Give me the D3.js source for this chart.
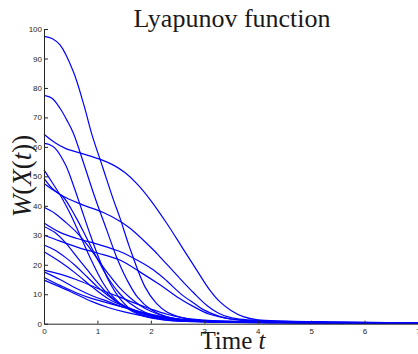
<!DOCTYPE html>
<html>
<head>
<meta charset="utf-8">
<script src="https://cdn.jsdelivr.net/npm/d3@7"></script>
<style>
  html, body { margin: 0; padding: 0; background: #fff; }
  svg { display: block; }
</style>
</head>
<body>
<svg id="chart" width="418" height="354"></svg>
<script>
// tick labels
const xTicks = [0, 1, 2, 3, 4, 5, 6, 7];
const yTicks = [0, 10, 20, 30, 40, 50, 60, 70, 80, 90, 100];

// trajectories W(X(t)) as [t, W] pairs
const run01 = [[0,97.5],[0.15,96.8],[0.3,94.6],[0.55,85.5],[0.75,74],[0.89,64.6],[1.1,53],[1.3,42],[1.42,36],[1.6,26],[1.89,12.5],[2.1,7],[2.3,4],[2.6,2],[3,1],[4,0.6],[5,0.4],[7,0.1]];
const run02 = [[0,77.5],[0.15,76.5],[0.3,73.1],[0.43,69],[0.55,64.6],[0.75,54],[0.95,43],[1.17,32],[1.35,23],[1.55,15],[1.75,9],[2,4.8],[2.3,2.3],[2.7,1.1],[3.5,0.6],[5,0.4],[7,0.1]];
const run03 = [[0,64.3],[0.2,61.5],[0.4,59.5],[0.7,57.8],[1.09,55.5],[1.3,53.8],[1.52,51.2],[1.75,47.3],[2,41.8],[2.3,34],[2.6,25.5],[2.9,17],[3.1,11.5],[3.3,7.3],[3.5,4.5],[3.73,2.4],[4,1.3],[4.5,0.9],[5.5,0.6],[7,0.2]];
const run04 = [[0,61.2],[0.1,60.8],[0.21,59.5],[0.4,54],[0.55,47],[0.7,39],[0.85,31],[1,23.5],[1.2,15],[1.4,9],[1.6,5.2],[1.9,2.6],[2.3,1.2],[3,0.6],[5,0.3],[7,0.1]];
const run05 = [[0,52.2],[0.15,48],[0.34,42.5],[0.5,37],[0.7,29],[0.9,21],[1.1,14],[1.3,9],[1.5,5.8],[1.8,3],[2.2,1.4],[3,0.6],[5,0.3],[7,0.1]];
const run06 = [[0,49.3],[0.15,46],[0.35,43.3],[0.7,40.5],[1.1,37.8],[1.42,34.8],[1.61,32.4],[2.05,25],[2.17,22.7],[2.5,16.2],[2.8,10.5],[3.05,6.2],[3.3,3.3],[3.6,1.7],[4,1.1],[4.5,0.8],[5.5,0.5],[7,0.2]];
const run07 = [[0,47.6],[0.2,45],[0.36,43],[0.6,36],[0.8,29],[1,22],[1.2,15.5],[1.4,10.5],[1.6,7],[1.9,3.8],[2.3,1.8],[3,0.8],[5,0.4],[7,0.1]];
const run08 = [[0,39.5],[0.2,37.5],[0.4,34.5],[0.61,31],[0.8,27],[1,22],[1.2,17],[1.4,12.5],[1.6,9],[1.8,6.2],[2,4.2],[2.3,2.3],[2.7,1.1],[3.3,0.6],[5,0.3],[7,0.1]];
const run09 = [[0,34.2],[0.3,31],[0.6,29],[1,27],[1.42,24.5],[1.8,21],[2.05,18.2],[2.3,14.5],[2.55,10.3],[2.8,7],[3,4.6],[3.3,2.4],[3.7,1.1],[4.2,0.7],[5.5,0.4],[7,0.1]];
const run10 = [[0,33],[0.2,31],[0.4,27.5],[0.6,23],[0.8,18.5],[1,14],[1.2,10],[1.4,7],[1.6,5],[1.9,3],[2.3,1.6],[3,0.8],[5,0.3],[7,0.1]];
const run11 = [[0,30.1],[0.3,28],[0.7,25.5],[1,24],[1.42,21.6],[1.8,17.5],[2.17,13.2],[2.5,9],[2.8,5.8],[3.1,3.2],[3.5,1.6],[4,0.9],[5,0.5],[7,0.1]];
const run12 = [[0,26.7],[0.2,25],[0.4,22.5],[0.6,19.5],[0.8,16],[1,12.5],[1.2,9.5],[1.4,7],[1.7,4.5],[2,2.8],[2.4,1.5],[3,0.8],[5,0.3],[7,0.1]];
const run13 = [[0,24.4],[0.3,21],[0.6,17],[0.9,12.5],[1.2,8.5],[1.5,6],[1.8,4],[2.2,2.2],[2.7,1.1],[4,0.5],[7,0.1]];
const run14 = [[0,18.2],[0.3,16.8],[0.6,15],[0.9,12.8],[1.2,10.5],[1.42,9],[1.7,7],[2,5],[2.3,3.2],[2.6,2],[3,1.2],[4,0.6],[7,0.1]];
const run15 = [[0,17.6],[0.3,15],[0.6,12],[0.9,9.5],[1.2,7.5],[1.5,5.5],[1.8,3.8],[2.2,2.2],[2.7,1.2],[4,0.5],[7,0.1]];
const run16 = [[0,15.7],[0.3,13],[0.6,10.5],[0.9,8.5],[1.2,7],[1.5,5.5],[1.8,4],[2.2,2.5],[2.7,1.3],[4,0.6],[7,0.1]];
const run17 = [[0,14.8],[0.3,12.5],[0.6,10],[0.9,7.5],[1.2,5.5],[1.5,4],[1.9,2.5],[2.4,1.4],[3,0.8],[4.5,0.4],[7,0.1]];

const runs = [run01, run02, run03, run04, run05, run06, run07, run08, run09,
              run10, run11, run12, run13, run14, run15, run16, run17];

const LINE_COLOR = '#0000ff';
const AXIS_COLOR = '#262626';

const svg = d3.select('#chart');

// plot area, matched to the reference axes
const margin = { left: 44, top: 29, right: 0, bottom: 30.3 };
const width = 418 - margin.left - margin.right;
const height = 354 - margin.top - margin.bottom;

const x = d3.scaleLinear().domain([0, 7]).range([0, width]);
const y = d3.scaleLinear().domain([0, 100]).range([height, 0]);

const g = svg.append('g').attr('transform', `translate(${margin.left},${margin.top})`);

// trajectories
const line = d3.line()
  .x(d => x(d[0]))
  .y(d => y(d[1]))
  .curve(d3.curveCatmullRom.alpha(0.5));

g.append('g')
  .selectAll('path')
  .data(runs)
  .enter()
  .append('path')
  .attr('d', line)
  .attr('fill', 'none')
  .attr('stroke', LINE_COLOR)
  .attr('stroke-width', 1.2);

// axes, ticks pointing inward like matlab
const yAxis = d3.axisLeft(y).tickValues(yTicks).tickFormat(d3.format('d'))
  .tickSizeInner(-4).tickSizeOuter(0).tickPadding(2);
const xAxis = d3.axisBottom(x).tickValues(xTicks).tickFormat(d3.format('d'))
  .tickSizeInner(-3).tickSizeOuter(0).tickPadding(5);

const yG = g.append('g').call(yAxis);
const xG = g.append('g').attr('transform', `translate(0,${height})`).call(xAxis);

[yG, xG].forEach(a => {
  a.select('.domain').attr('stroke', AXIS_COLOR).attr('stroke-width', 1);
  a.selectAll('.tick line').attr('stroke', AXIS_COLOR);
  a.selectAll('.tick text')
    .attr('fill', AXIS_COLOR)
    .style('font-family', '"Liberation Sans", Arial, sans-serif')
    .style('font-size', '8px');
});

// title and labels
svg.append('text')
  .attr('x', 232)
  .attr('y', 26.5)
  .attr('text-anchor', 'middle')
  .style('font-family', '"Liberation Serif", "Times New Roman", serif')
  .style('font-size', '26px')
  .attr('fill', '#1a1a1a')
  .text('Lyapunov function');

const xLabel = svg.append('text')
  .attr('x', 233)
  .attr('y', 349)
  .attr('text-anchor', 'middle')
  .style('font-family', '"Liberation Serif", "Times New Roman", serif')
  .style('font-size', '25px')
  .attr('fill', '#1a1a1a');
xLabel.append('tspan').text('Time ');
xLabel.append('tspan').style('font-style', 'italic').text('t');

const yLabel = svg.append('text')
  .attr('transform', 'translate(31,176) rotate(-90)')
  .attr('text-anchor', 'middle')
  .style('font-family', '"Liberation Serif", "Times New Roman", serif')
  .style('font-size', '27px')
  .attr('fill', '#1a1a1a');
yLabel.append('tspan').style('font-style', 'italic').text('W');
yLabel.append('tspan').text('(');
yLabel.append('tspan').style('font-style', 'italic').text('X');
yLabel.append('tspan').text('(');
yLabel.append('tspan').style('font-style', 'italic').text('t');
yLabel.append('tspan').text('))');
</script>
</body>
</html>
